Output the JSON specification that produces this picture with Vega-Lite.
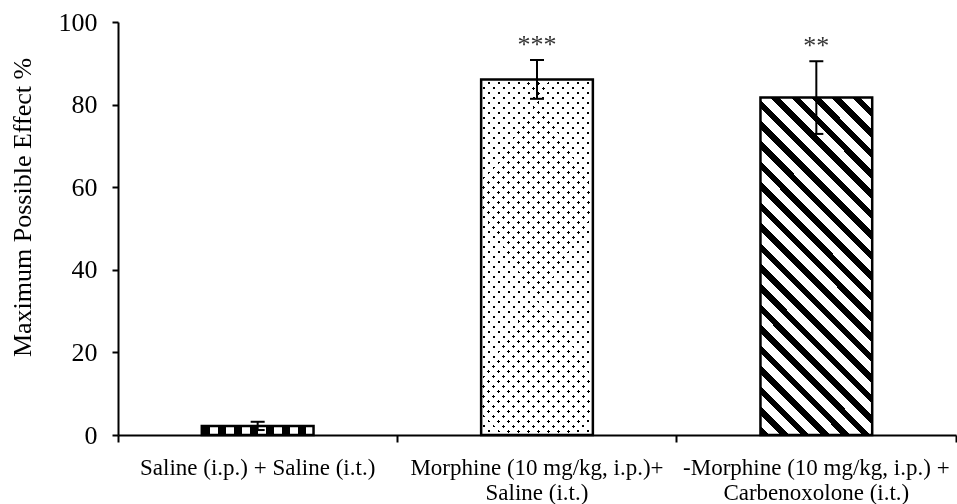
{
  "$schema": "https://vega.github.io/schema/vega-lite/v6.json",
  "width": 838,
  "height": 413,
  "autosize": {"type": "none"},
  "padding": {"left": 118, "top": 22, "right": 1, "bottom": 69},
  "background": "white",
  "config": {
    "view": {"stroke": null},
    "axisY": {
      "titleFont": "Liberation Serif", "titleFontSize": 26, "titleFontWeight": "normal",
      "titleColor": "black", "titleX": -88, "titleY": 185, "titleBaseline": "alphabetic", "titleAngle": -90, "titleAlign": "center",
      "tickCount": 5,
      "labelFont": "Liberation Serif", "labelFontSize": 26, "labelColor": "black", "labelPadding": 15,
      "tickSize": 6, "tickWidth": 2, "tickColor": "black", "domainColor": "black", "domainWidth": 2, "grid": false
    }
  },
  "data": {"values": [
    {"group": "Saline (i.p.) + Saline (i.t.)", "mpe": 2.2, "lo": 1.2, "hi": 3.2, "sig": ""},
    {"group": "Morphine (10 mg/kg, i.p.)+\nSaline (i.t.)", "mpe": 86.1, "lo": 81.4, "hi": 90.8, "sig": "***"},
    {"group": "-Morphine (10 mg/kg, i.p.) +\nCarbenoxolone (i.t.)", "mpe": 81.7, "lo": 72.9, "hi": 90.5, "sig": "**"}
  ]},
  "encoding": {
    "x": {
      "field": "group", "type": "nominal", "sort": null,
      "scale": {"domain": ["Saline (i.p.) + Saline (i.t.)", "Morphine (10 mg/kg, i.p.)+\nSaline (i.t.)", "-Morphine (10 mg/kg, i.p.) +\nCarbenoxolone (i.t.)"], "paddingInner": 0, "paddingOuter": 0},
      "axis": {
        "title": null, "labelAngle": 0, "labelExpr": "split(datum.label, '\\n')",
        "labelFont": "Liberation Serif", "labelFontSize": 23, "labelLineHeight": 25, "labelColor": "black",
        "labelLimit": 400, "labelOverlap": false, "labelPadding": 14,
        "tickSize": 7, "tickWidth": 2, "tickColor": "black", "bandPosition": 1, "tickExtra": true,
        "domainColor": "black", "domainWidth": 2
      }
    }
  },
  "layer": [
    {
      "transform": [{"filter": {"field": "group", "equal": "Saline (i.p.) + Saline (i.t.)"}}],
      "mark": {"type": "bar", "width": {"band": 0.4}, "fill": {"gradient": "linear", "x1": 0, "y1": 0, "x2": 1, "y2": 0, "stops": [
        {"offset":0,"color":"#000"},{"offset":0.0714,"color":"#000"},{"offset":0.0714,"color":"#fff"},{"offset":0.1429,"color":"#fff"},
        {"offset":0.1429,"color":"#000"},{"offset":0.2143,"color":"#000"},{"offset":0.2143,"color":"#fff"},{"offset":0.2857,"color":"#fff"},
        {"offset":0.2857,"color":"#000"},{"offset":0.3571,"color":"#000"},{"offset":0.3571,"color":"#fff"},{"offset":0.4286,"color":"#fff"},
        {"offset":0.4286,"color":"#000"},{"offset":0.5,"color":"#000"},{"offset":0.5,"color":"#fff"},{"offset":0.5714,"color":"#fff"},
        {"offset":0.5714,"color":"#000"},{"offset":0.6429,"color":"#000"},{"offset":0.6429,"color":"#fff"},{"offset":0.7143,"color":"#fff"},
        {"offset":0.7143,"color":"#000"},{"offset":0.7857,"color":"#000"},{"offset":0.7857,"color":"#fff"},{"offset":0.8571,"color":"#fff"},
        {"offset":0.8571,"color":"#000"},{"offset":0.9286,"color":"#000"},{"offset":0.9286,"color":"#fff"},{"offset":1,"color":"#fff"}
      ]}},
      "encoding": {"y": {"field": "mpe", "type": "quantitative", "scale": {"domain": [0, 100]}, "title": "Maximum Possible Effect %"}}
    },
    {
      "transform": [{"filter": {"field": "group", "equal": "Morphine (10 mg/kg, i.p.)+\nSaline (i.t.)"}}],
      "mark": {"type": "bar", "width": {"band": 0.4}, "fill": {"gradient": "linear", "x1": 0, "y1": 1, "x2": 0.3768, "y2": -0.1963, "stops": [
        {"offset":0,"color":"#000"},{"offset":0.0064,"color":"#000"},{"offset":0.0064,"color":"#fff"},{"offset":0.0213,"color":"#fff"},
        {"offset":0.0213,"color":"#000"},{"offset":0.0277,"color":"#000"},{"offset":0.0277,"color":"#fff"},{"offset":0.0426,"color":"#fff"},
        {"offset":0.0426,"color":"#000"},{"offset":0.0489,"color":"#000"},{"offset":0.0489,"color":"#fff"},{"offset":0.0638,"color":"#fff"},
        {"offset":0.0638,"color":"#000"},{"offset":0.0702,"color":"#000"},{"offset":0.0702,"color":"#fff"},{"offset":0.0851,"color":"#fff"},
        {"offset":0.0851,"color":"#000"},{"offset":0.0915,"color":"#000"},{"offset":0.0915,"color":"#fff"},{"offset":0.1064,"color":"#fff"},
        {"offset":0.1064,"color":"#000"},{"offset":0.1128,"color":"#000"},{"offset":0.1128,"color":"#fff"},{"offset":0.1277,"color":"#fff"},
        {"offset":0.1277,"color":"#000"},{"offset":0.134,"color":"#000"},{"offset":0.134,"color":"#fff"},{"offset":0.1489,"color":"#fff"},
        {"offset":0.1489,"color":"#000"},{"offset":0.1553,"color":"#000"},{"offset":0.1553,"color":"#fff"},{"offset":0.1702,"color":"#fff"},
        {"offset":0.1702,"color":"#000"},{"offset":0.1766,"color":"#000"},{"offset":0.1766,"color":"#fff"},{"offset":0.1915,"color":"#fff"},
        {"offset":0.1915,"color":"#000"},{"offset":0.1979,"color":"#000"},{"offset":0.1979,"color":"#fff"},{"offset":0.2128,"color":"#fff"},
        {"offset":0.2128,"color":"#000"},{"offset":0.2191,"color":"#000"},{"offset":0.2191,"color":"#fff"},{"offset":0.234,"color":"#fff"},
        {"offset":0.234,"color":"#000"},{"offset":0.2404,"color":"#000"},{"offset":0.2404,"color":"#fff"},{"offset":0.2553,"color":"#fff"},
        {"offset":0.2553,"color":"#000"},{"offset":0.2617,"color":"#000"},{"offset":0.2617,"color":"#fff"},{"offset":0.2766,"color":"#fff"},
        {"offset":0.2766,"color":"#000"},{"offset":0.283,"color":"#000"},{"offset":0.283,"color":"#fff"},{"offset":0.2979,"color":"#fff"},
        {"offset":0.2979,"color":"#000"},{"offset":0.3043,"color":"#000"},{"offset":0.3043,"color":"#fff"},{"offset":0.3191,"color":"#fff"},
        {"offset":0.3191,"color":"#000"},{"offset":0.3255,"color":"#000"},{"offset":0.3255,"color":"#fff"},{"offset":0.3404,"color":"#fff"},
        {"offset":0.3404,"color":"#000"},{"offset":0.3468,"color":"#000"},{"offset":0.3468,"color":"#fff"},{"offset":0.3617,"color":"#fff"},
        {"offset":0.3617,"color":"#000"},{"offset":0.3681,"color":"#000"},{"offset":0.3681,"color":"#fff"},{"offset":0.383,"color":"#fff"},
        {"offset":0.383,"color":"#000"},{"offset":0.3894,"color":"#000"},{"offset":0.3894,"color":"#fff"},{"offset":0.4043,"color":"#fff"},
        {"offset":0.4043,"color":"#000"},{"offset":0.4106,"color":"#000"},{"offset":0.4106,"color":"#fff"},{"offset":0.4255,"color":"#fff"},
        {"offset":0.4255,"color":"#000"},{"offset":0.4319,"color":"#000"},{"offset":0.4319,"color":"#fff"},{"offset":0.4468,"color":"#fff"},
        {"offset":0.4468,"color":"#000"},{"offset":0.4532,"color":"#000"},{"offset":0.4532,"color":"#fff"},{"offset":0.4681,"color":"#fff"},
        {"offset":0.4681,"color":"#000"},{"offset":0.4745,"color":"#000"},{"offset":0.4745,"color":"#fff"},{"offset":0.4894,"color":"#fff"},
        {"offset":0.4894,"color":"#000"},{"offset":0.4957,"color":"#000"},{"offset":0.4957,"color":"#fff"},{"offset":0.5106,"color":"#fff"},
        {"offset":0.5106,"color":"#000"},{"offset":0.517,"color":"#000"},{"offset":0.517,"color":"#fff"},{"offset":0.5319,"color":"#fff"},
        {"offset":0.5319,"color":"#000"},{"offset":0.5383,"color":"#000"},{"offset":0.5383,"color":"#fff"},{"offset":0.5532,"color":"#fff"},
        {"offset":0.5532,"color":"#000"},{"offset":0.5596,"color":"#000"},{"offset":0.5596,"color":"#fff"},{"offset":0.5745,"color":"#fff"},
        {"offset":0.5745,"color":"#000"},{"offset":0.5809,"color":"#000"},{"offset":0.5809,"color":"#fff"},{"offset":0.5957,"color":"#fff"},
        {"offset":0.5957,"color":"#000"},{"offset":0.6021,"color":"#000"},{"offset":0.6021,"color":"#fff"},{"offset":0.617,"color":"#fff"},
        {"offset":0.617,"color":"#000"},{"offset":0.6234,"color":"#000"},{"offset":0.6234,"color":"#fff"},{"offset":0.6383,"color":"#fff"},
        {"offset":0.6383,"color":"#000"},{"offset":0.6447,"color":"#000"},{"offset":0.6447,"color":"#fff"},{"offset":0.6596,"color":"#fff"},
        {"offset":0.6596,"color":"#000"},{"offset":0.666,"color":"#000"},{"offset":0.666,"color":"#fff"},{"offset":0.6809,"color":"#fff"},
        {"offset":0.6809,"color":"#000"},{"offset":0.6872,"color":"#000"},{"offset":0.6872,"color":"#fff"},{"offset":0.7021,"color":"#fff"},
        {"offset":0.7021,"color":"#000"},{"offset":0.7085,"color":"#000"},{"offset":0.7085,"color":"#fff"},{"offset":0.7234,"color":"#fff"},
        {"offset":0.7234,"color":"#000"},{"offset":0.7298,"color":"#000"},{"offset":0.7298,"color":"#fff"},{"offset":0.7447,"color":"#fff"},
        {"offset":0.7447,"color":"#000"},{"offset":0.7511,"color":"#000"},{"offset":0.7511,"color":"#fff"},{"offset":0.766,"color":"#fff"},
        {"offset":0.766,"color":"#000"},{"offset":0.7723,"color":"#000"},{"offset":0.7723,"color":"#fff"},{"offset":0.7872,"color":"#fff"},
        {"offset":0.7872,"color":"#000"},{"offset":0.7936,"color":"#000"},{"offset":0.7936,"color":"#fff"},{"offset":0.8085,"color":"#fff"},
        {"offset":0.8085,"color":"#000"},{"offset":0.8149,"color":"#000"},{"offset":0.8149,"color":"#fff"},{"offset":0.8298,"color":"#fff"},
        {"offset":0.8298,"color":"#000"},{"offset":0.8362,"color":"#000"},{"offset":0.8362,"color":"#fff"},{"offset":0.8511,"color":"#fff"},
        {"offset":0.8511,"color":"#000"},{"offset":0.8574,"color":"#000"},{"offset":0.8574,"color":"#fff"},{"offset":0.8723,"color":"#fff"},
        {"offset":0.8723,"color":"#000"},{"offset":0.8787,"color":"#000"},{"offset":0.8787,"color":"#fff"},{"offset":0.8936,"color":"#fff"},
        {"offset":0.8936,"color":"#000"},{"offset":0.9,"color":"#000"},{"offset":0.9,"color":"#fff"},{"offset":0.9149,"color":"#fff"},
        {"offset":0.9149,"color":"#000"},{"offset":0.9213,"color":"#000"},{"offset":0.9213,"color":"#fff"},{"offset":0.9362,"color":"#fff"},
        {"offset":0.9362,"color":"#000"},{"offset":0.9426,"color":"#000"},{"offset":0.9426,"color":"#fff"},{"offset":0.9574,"color":"#fff"},
        {"offset":0.9574,"color":"#000"},{"offset":0.9638,"color":"#000"},{"offset":0.9638,"color":"#fff"},{"offset":0.9787,"color":"#fff"},
        {"offset":0.9787,"color":"#000"},{"offset":0.9851,"color":"#000"},{"offset":0.9851,"color":"#fff"},{"offset":1,"color":"#fff"}
      ]}},
      "encoding": {"y": {"field": "mpe", "type": "quantitative", "title": "Maximum Possible Effect %"}}
    },
    {
      "transform": [{"filter": {"field": "group", "equal": "Morphine (10 mg/kg, i.p.)+\nSaline (i.t.)"}}],
      "mark": {"type": "bar", "width": {"band": 0.4}, "blend": "screen", "fill": {"gradient": "linear", "x1": 0, "y1": 0, "x2": 0.3768, "y2": 1.1963, "stops": [
        {"offset":0,"color":"#000"},{"offset":0.0064,"color":"#000"},{"offset":0.0064,"color":"#fff"},{"offset":0.0213,"color":"#fff"},
        {"offset":0.0213,"color":"#000"},{"offset":0.0277,"color":"#000"},{"offset":0.0277,"color":"#fff"},{"offset":0.0426,"color":"#fff"},
        {"offset":0.0426,"color":"#000"},{"offset":0.0489,"color":"#000"},{"offset":0.0489,"color":"#fff"},{"offset":0.0638,"color":"#fff"},
        {"offset":0.0638,"color":"#000"},{"offset":0.0702,"color":"#000"},{"offset":0.0702,"color":"#fff"},{"offset":0.0851,"color":"#fff"},
        {"offset":0.0851,"color":"#000"},{"offset":0.0915,"color":"#000"},{"offset":0.0915,"color":"#fff"},{"offset":0.1064,"color":"#fff"},
        {"offset":0.1064,"color":"#000"},{"offset":0.1128,"color":"#000"},{"offset":0.1128,"color":"#fff"},{"offset":0.1277,"color":"#fff"},
        {"offset":0.1277,"color":"#000"},{"offset":0.134,"color":"#000"},{"offset":0.134,"color":"#fff"},{"offset":0.1489,"color":"#fff"},
        {"offset":0.1489,"color":"#000"},{"offset":0.1553,"color":"#000"},{"offset":0.1553,"color":"#fff"},{"offset":0.1702,"color":"#fff"},
        {"offset":0.1702,"color":"#000"},{"offset":0.1766,"color":"#000"},{"offset":0.1766,"color":"#fff"},{"offset":0.1915,"color":"#fff"},
        {"offset":0.1915,"color":"#000"},{"offset":0.1979,"color":"#000"},{"offset":0.1979,"color":"#fff"},{"offset":0.2128,"color":"#fff"},
        {"offset":0.2128,"color":"#000"},{"offset":0.2191,"color":"#000"},{"offset":0.2191,"color":"#fff"},{"offset":0.234,"color":"#fff"},
        {"offset":0.234,"color":"#000"},{"offset":0.2404,"color":"#000"},{"offset":0.2404,"color":"#fff"},{"offset":0.2553,"color":"#fff"},
        {"offset":0.2553,"color":"#000"},{"offset":0.2617,"color":"#000"},{"offset":0.2617,"color":"#fff"},{"offset":0.2766,"color":"#fff"},
        {"offset":0.2766,"color":"#000"},{"offset":0.283,"color":"#000"},{"offset":0.283,"color":"#fff"},{"offset":0.2979,"color":"#fff"},
        {"offset":0.2979,"color":"#000"},{"offset":0.3043,"color":"#000"},{"offset":0.3043,"color":"#fff"},{"offset":0.3191,"color":"#fff"},
        {"offset":0.3191,"color":"#000"},{"offset":0.3255,"color":"#000"},{"offset":0.3255,"color":"#fff"},{"offset":0.3404,"color":"#fff"},
        {"offset":0.3404,"color":"#000"},{"offset":0.3468,"color":"#000"},{"offset":0.3468,"color":"#fff"},{"offset":0.3617,"color":"#fff"},
        {"offset":0.3617,"color":"#000"},{"offset":0.3681,"color":"#000"},{"offset":0.3681,"color":"#fff"},{"offset":0.383,"color":"#fff"},
        {"offset":0.383,"color":"#000"},{"offset":0.3894,"color":"#000"},{"offset":0.3894,"color":"#fff"},{"offset":0.4043,"color":"#fff"},
        {"offset":0.4043,"color":"#000"},{"offset":0.4106,"color":"#000"},{"offset":0.4106,"color":"#fff"},{"offset":0.4255,"color":"#fff"},
        {"offset":0.4255,"color":"#000"},{"offset":0.4319,"color":"#000"},{"offset":0.4319,"color":"#fff"},{"offset":0.4468,"color":"#fff"},
        {"offset":0.4468,"color":"#000"},{"offset":0.4532,"color":"#000"},{"offset":0.4532,"color":"#fff"},{"offset":0.4681,"color":"#fff"},
        {"offset":0.4681,"color":"#000"},{"offset":0.4745,"color":"#000"},{"offset":0.4745,"color":"#fff"},{"offset":0.4894,"color":"#fff"},
        {"offset":0.4894,"color":"#000"},{"offset":0.4957,"color":"#000"},{"offset":0.4957,"color":"#fff"},{"offset":0.5106,"color":"#fff"},
        {"offset":0.5106,"color":"#000"},{"offset":0.517,"color":"#000"},{"offset":0.517,"color":"#fff"},{"offset":0.5319,"color":"#fff"},
        {"offset":0.5319,"color":"#000"},{"offset":0.5383,"color":"#000"},{"offset":0.5383,"color":"#fff"},{"offset":0.5532,"color":"#fff"},
        {"offset":0.5532,"color":"#000"},{"offset":0.5596,"color":"#000"},{"offset":0.5596,"color":"#fff"},{"offset":0.5745,"color":"#fff"},
        {"offset":0.5745,"color":"#000"},{"offset":0.5809,"color":"#000"},{"offset":0.5809,"color":"#fff"},{"offset":0.5957,"color":"#fff"},
        {"offset":0.5957,"color":"#000"},{"offset":0.6021,"color":"#000"},{"offset":0.6021,"color":"#fff"},{"offset":0.617,"color":"#fff"},
        {"offset":0.617,"color":"#000"},{"offset":0.6234,"color":"#000"},{"offset":0.6234,"color":"#fff"},{"offset":0.6383,"color":"#fff"},
        {"offset":0.6383,"color":"#000"},{"offset":0.6447,"color":"#000"},{"offset":0.6447,"color":"#fff"},{"offset":0.6596,"color":"#fff"},
        {"offset":0.6596,"color":"#000"},{"offset":0.666,"color":"#000"},{"offset":0.666,"color":"#fff"},{"offset":0.6809,"color":"#fff"},
        {"offset":0.6809,"color":"#000"},{"offset":0.6872,"color":"#000"},{"offset":0.6872,"color":"#fff"},{"offset":0.7021,"color":"#fff"},
        {"offset":0.7021,"color":"#000"},{"offset":0.7085,"color":"#000"},{"offset":0.7085,"color":"#fff"},{"offset":0.7234,"color":"#fff"},
        {"offset":0.7234,"color":"#000"},{"offset":0.7298,"color":"#000"},{"offset":0.7298,"color":"#fff"},{"offset":0.7447,"color":"#fff"},
        {"offset":0.7447,"color":"#000"},{"offset":0.7511,"color":"#000"},{"offset":0.7511,"color":"#fff"},{"offset":0.766,"color":"#fff"},
        {"offset":0.766,"color":"#000"},{"offset":0.7723,"color":"#000"},{"offset":0.7723,"color":"#fff"},{"offset":0.7872,"color":"#fff"},
        {"offset":0.7872,"color":"#000"},{"offset":0.7936,"color":"#000"},{"offset":0.7936,"color":"#fff"},{"offset":0.8085,"color":"#fff"},
        {"offset":0.8085,"color":"#000"},{"offset":0.8149,"color":"#000"},{"offset":0.8149,"color":"#fff"},{"offset":0.8298,"color":"#fff"},
        {"offset":0.8298,"color":"#000"},{"offset":0.8362,"color":"#000"},{"offset":0.8362,"color":"#fff"},{"offset":0.8511,"color":"#fff"},
        {"offset":0.8511,"color":"#000"},{"offset":0.8574,"color":"#000"},{"offset":0.8574,"color":"#fff"},{"offset":0.8723,"color":"#fff"},
        {"offset":0.8723,"color":"#000"},{"offset":0.8787,"color":"#000"},{"offset":0.8787,"color":"#fff"},{"offset":0.8936,"color":"#fff"},
        {"offset":0.8936,"color":"#000"},{"offset":0.9,"color":"#000"},{"offset":0.9,"color":"#fff"},{"offset":0.9149,"color":"#fff"},
        {"offset":0.9149,"color":"#000"},{"offset":0.9213,"color":"#000"},{"offset":0.9213,"color":"#fff"},{"offset":0.9362,"color":"#fff"},
        {"offset":0.9362,"color":"#000"},{"offset":0.9426,"color":"#000"},{"offset":0.9426,"color":"#fff"},{"offset":0.9574,"color":"#fff"},
        {"offset":0.9574,"color":"#000"},{"offset":0.9638,"color":"#000"},{"offset":0.9638,"color":"#fff"},{"offset":0.9787,"color":"#fff"},
        {"offset":0.9787,"color":"#000"},{"offset":0.9851,"color":"#000"},{"offset":0.9851,"color":"#fff"},{"offset":1,"color":"#fff"}
      ]}},
      "encoding": {"y": {"field": "mpe", "type": "quantitative", "title": "Maximum Possible Effect %"}}
    },
    {
      "transform": [{"filter": {"field": "group", "equal": "-Morphine (10 mg/kg, i.p.) +\nCarbenoxolone (i.t.)"}}],
      "mark": {"type": "bar", "width": {"band": 0.4}, "fill": {"gradient": "linear", "x1": 0, "y1": 1, "x2": 0.3983, "y2": -0.1998, "stops": [
        {"offset":0,"color":"#000"},{"offset":0.0191,"color":"#000"},{"offset":0.0191,"color":"#fff"},{"offset":0.0455,"color":"#fff"},
        {"offset":0.0455,"color":"#000"},{"offset":0.0645,"color":"#000"},{"offset":0.0645,"color":"#fff"},{"offset":0.0909,"color":"#fff"},
        {"offset":0.0909,"color":"#000"},{"offset":0.11,"color":"#000"},{"offset":0.11,"color":"#fff"},{"offset":0.1364,"color":"#fff"},
        {"offset":0.1364,"color":"#000"},{"offset":0.1555,"color":"#000"},{"offset":0.1555,"color":"#fff"},{"offset":0.1818,"color":"#fff"},
        {"offset":0.1818,"color":"#000"},{"offset":0.2009,"color":"#000"},{"offset":0.2009,"color":"#fff"},{"offset":0.2273,"color":"#fff"},
        {"offset":0.2273,"color":"#000"},{"offset":0.2464,"color":"#000"},{"offset":0.2464,"color":"#fff"},{"offset":0.2727,"color":"#fff"},
        {"offset":0.2727,"color":"#000"},{"offset":0.2918,"color":"#000"},{"offset":0.2918,"color":"#fff"},{"offset":0.3182,"color":"#fff"},
        {"offset":0.3182,"color":"#000"},{"offset":0.3373,"color":"#000"},{"offset":0.3373,"color":"#fff"},{"offset":0.3636,"color":"#fff"},
        {"offset":0.3636,"color":"#000"},{"offset":0.3827,"color":"#000"},{"offset":0.3827,"color":"#fff"},{"offset":0.4091,"color":"#fff"},
        {"offset":0.4091,"color":"#000"},{"offset":0.4282,"color":"#000"},{"offset":0.4282,"color":"#fff"},{"offset":0.4545,"color":"#fff"},
        {"offset":0.4545,"color":"#000"},{"offset":0.4736,"color":"#000"},{"offset":0.4736,"color":"#fff"},{"offset":0.5,"color":"#fff"},
        {"offset":0.5,"color":"#000"},{"offset":0.5191,"color":"#000"},{"offset":0.5191,"color":"#fff"},{"offset":0.5455,"color":"#fff"},
        {"offset":0.5455,"color":"#000"},{"offset":0.5645,"color":"#000"},{"offset":0.5645,"color":"#fff"},{"offset":0.5909,"color":"#fff"},
        {"offset":0.5909,"color":"#000"},{"offset":0.61,"color":"#000"},{"offset":0.61,"color":"#fff"},{"offset":0.6364,"color":"#fff"},
        {"offset":0.6364,"color":"#000"},{"offset":0.6555,"color":"#000"},{"offset":0.6555,"color":"#fff"},{"offset":0.6818,"color":"#fff"},
        {"offset":0.6818,"color":"#000"},{"offset":0.7009,"color":"#000"},{"offset":0.7009,"color":"#fff"},{"offset":0.7273,"color":"#fff"},
        {"offset":0.7273,"color":"#000"},{"offset":0.7464,"color":"#000"},{"offset":0.7464,"color":"#fff"},{"offset":0.7727,"color":"#fff"},
        {"offset":0.7727,"color":"#000"},{"offset":0.7918,"color":"#000"},{"offset":0.7918,"color":"#fff"},{"offset":0.8182,"color":"#fff"},
        {"offset":0.8182,"color":"#000"},{"offset":0.8373,"color":"#000"},{"offset":0.8373,"color":"#fff"},{"offset":0.8636,"color":"#fff"},
        {"offset":0.8636,"color":"#000"},{"offset":0.8827,"color":"#000"},{"offset":0.8827,"color":"#fff"},{"offset":0.9091,"color":"#fff"},
        {"offset":0.9091,"color":"#000"},{"offset":0.9282,"color":"#000"},{"offset":0.9282,"color":"#fff"},{"offset":0.9545,"color":"#fff"},
        {"offset":0.9545,"color":"#000"},{"offset":0.9736,"color":"#000"},{"offset":0.9736,"color":"#fff"},{"offset":1,"color":"#fff"}
      ]}},
      "encoding": {"y": {"field": "mpe", "type": "quantitative", "title": "Maximum Possible Effect %"}}
    },
    {
      "mark": {"type": "bar", "width": {"band": 0.4}, "fill": "white", "fillOpacity": 0, "stroke": "black", "strokeWidth": 2.5},
      "encoding": {"y": {"field": "mpe", "type": "quantitative", "title": "Maximum Possible Effect %"}}
    },
    {
      "mark": {"type": "rule", "color": "black", "strokeWidth": 2},
      "encoding": {"y": {"field": "lo", "type": "quantitative", "title": "Maximum Possible Effect %"}, "y2": {"field": "hi"}}
    },
    {
      "mark": {"type": "tick", "color": "black", "size": 14, "thickness": 2, "opacity": 1},
      "encoding": {"y": {"field": "hi", "type": "quantitative", "title": "Maximum Possible Effect %"}}
    },
    {
      "mark": {"type": "tick", "color": "black", "size": 14, "thickness": 2, "opacity": 1},
      "encoding": {"y": {"field": "lo", "type": "quantitative", "title": "Maximum Possible Effect %"}}
    },
    {
      "mark": {"type": "text", "font": "Liberation Serif", "fontSize": 26, "color": "#333", "baseline": "alphabetic", "dy": -7},
      "encoding": {"y": {"field": "hi", "type": "quantitative", "title": "Maximum Possible Effect %"}, "text": {"field": "sig"}}
    }
  ]
}
